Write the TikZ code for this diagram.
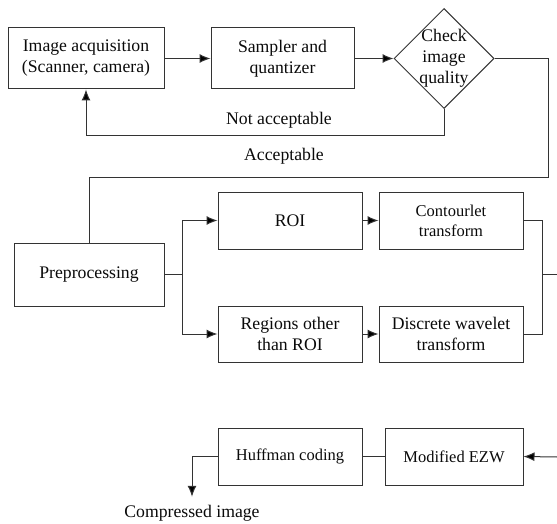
\documentclass[tikz,border=0pt]{standalone}
\usepackage{fontspec}
\setmainfont{Liberation Serif}
\usetikzlibrary{shapes.geometric,arrows.meta}
\definecolor{linec}{HTML}{333333}
\definecolor{txtc}{HTML}{0A0A0A}
\begin{document}
\begin{tikzpicture}[x=1pt,y=-1pt,
  box/.style={draw=linec, line width=1pt, rectangle, inner sep=0pt, align=center, text=txtc, font=\fontsize{17.7}{21}\selectfont},
  sbox/.style={box, font=\fontsize{16.5}{20}\selectfont},
  conn/.style={draw=linec, line width=1pt},
  arr/.style={conn, -{Latex[length=11pt,width=9pt,fill=black]}},
  lbl/.style={inner sep=0pt, text=txtc, font=\fontsize{17.7}{21}\selectfont}]
\useasboundingbox (0,0) rectangle (557,524);
% nodes
\node[box, minimum width=156pt, minimum height=61pt] (acq) at (86,58.5) {Image acquisition\\(Scanner, camera)};
\node[box, minimum width=143pt, minimum height=61pt] (samp) at (282.5,58.5) {Sampler and\\quantizer};
\node[diamond, draw=linec, line width=1pt, minimum width=100pt, minimum height=100pt, inner sep=0pt] (chk) at (444,58.5) {};
\node[lbl, align=center] (chkt) at (chk.center) {Check\\image\\quality};
\node[lbl] (na) at (279,120) {Not acceptable};
\node[lbl] (ac) at (284,156) {Acceptable};
\node[box, minimum width=150pt, minimum height=63pt] (pre) at (89,274.5) {Preprocessing};
\node[box, minimum width=144pt, minimum height=57pt] (roi) at (290,220.5) {ROI};
\node[sbox, minimum width=144pt, minimum height=57pt] (cont) at (451,220.5) {Contourlet\\transform};
\node[box, minimum width=144pt, minimum height=56pt] (reg) at (290,334) {Regions other\\than ROI};
\node[box, minimum width=144pt, minimum height=56pt] (dwt) at (451,334) {Discrete wavelet\\transform};
\node[sbox, minimum width=144pt, minimum height=57pt] (huff) at (290,456.5) {Huffman coding};
\node[sbox, minimum width=138pt, minimum height=57pt] (ezw) at (454,456.5) {Modified EZW};
\node[lbl] (out) at (192,513) {Compressed image};
% coordinates
\coordinate (fbl) at (0,136);
\coordinate (acr) at (548,178);
\coordinate (bx) at (182,0);
\coordinate (brx) at (542,0);
\coordinate (outR) at (557,274);
\coordinate (inR) at (557,457);
% connectors
\draw[arr] (acq.east) -- (samp.west);
\draw[arr] (samp.east) -- (chk.west);
\draw[arr] (chk.south) |- (acq.south |- fbl) -- (acq.south);
\draw[conn] (chk.east) -| (acr) -| (pre.north);
\draw[conn] (pre.east) -- (bx |- pre.east);
\draw[arr] (bx |- pre.east) |- (roi.west);
\draw[arr] (bx |- pre.east) |- (reg.west);
\draw[arr] (roi.east) -- (cont.west);
\draw[arr] (reg.east) -- (dwt.west);
\draw[conn] (cont.east) -- (brx |- cont.east) -- (brx |- dwt.east) -- (dwt.east);
\draw[conn] (brx |- outR) -- (outR);
\draw[arr] (inR) -- (ezw.east);
\draw[conn] (huff.east) -- (ezw.west);
\draw[arr] (huff.west) -| ([yshift=8pt]out.north);
\end{tikzpicture}
\end{document}
